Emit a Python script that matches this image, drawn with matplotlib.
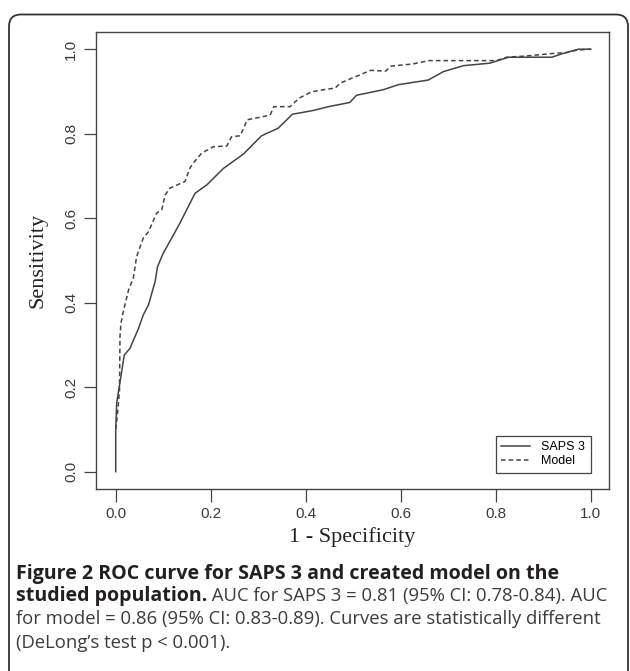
import matplotlib
matplotlib.use("Agg")
import matplotlib.pyplot as plt
from matplotlib.patches import FancyBboxPatch
from matplotlib.transforms import IdentityTransform

# ROC points (1 - specificity, sensitivity)
saps_fpr = [0, 0, 0.002, 0.018, 0.030, 0.048, 0.058, 0.069, 0.083, 0.088, 0.100,
            0.118, 0.135, 0.167, 0.192, 0.227, 0.269, 0.307, 0.342, 0.372, 0.416,
            0.448, 0.493, 0.507, 0.563, 0.595, 0.658, 0.690, 0.732, 0.788, 0.827,
            0.918, 0.942, 0.974, 1.0]
saps_tpr = [0, 0.099, 0.162, 0.276, 0.292, 0.339, 0.371, 0.395, 0.450, 0.485, 0.517,
            0.553, 0.588, 0.659, 0.679, 0.718, 0.752, 0.795, 0.813, 0.846, 0.855,
            0.864, 0.874, 0.891, 0.904, 0.916, 0.927, 0.947, 0.961, 0.967, 0.981,
            0.981, 0.990, 1.0, 1.0]

model_fpr = [0, 0.004, 0.008, 0.009, 0.011, 0.016, 0.027, 0.037, 0.044, 0.058, 0.069,
             0.086, 0.097, 0.104, 0.114, 0.146, 0.156, 0.163, 0.181, 0.205, 0.234,
             0.244, 0.262, 0.277, 0.304, 0.325, 0.333, 0.367, 0.386, 0.412, 0.437,
             0.462, 0.473, 0.507, 0.537, 0.568, 0.580, 0.625, 0.660, 0.802, 0.823,
             0.865, 0.921, 0.949, 0.971, 1.0]
model_tpr = [0.10, 0.14, 0.193, 0.320, 0.351, 0.379, 0.430, 0.458, 0.509, 0.553, 0.568,
             0.612, 0.620, 0.655, 0.671, 0.687, 0.718, 0.730, 0.754, 0.769, 0.771,
             0.793, 0.795, 0.833, 0.839, 0.844, 0.864, 0.864, 0.884, 0.899, 0.904,
             0.908, 0.920, 0.936, 0.950, 0.948, 0.960, 0.965, 0.973, 0.973, 0.981,
             0.984, 0.990, 0.992, 0.998, 1.0]

ticks = [0.0, 0.2, 0.4, 0.6, 0.8, 1.0]
tick_labels = ["0.0", "0.2", "0.4", "0.6", "0.8", "1.0"]

W, H = 630, 671
fig = plt.figure(figsize=(W / 100, H / 100), dpi=100)

# rounded frame around the whole figure (open at the bottom)
frame = FancyBboxPatch((9, -40), 619, 671 - 14.5 + 40,
                       boxstyle="round,pad=0,rounding_size=12",
                       transform=IdentityTransform(), fill=False,
                       edgecolor="#333333", linewidth=1.3)
fig.patches.append(frame)

ax = fig.add_axes([96 / W, 1 - 489 / H, 513 / W, 456.7 / H])
gray = "#444444"
ax.plot(saps_fpr, saps_tpr, color=gray, lw=1.1, label="SAPS 3")
ax.plot(model_fpr, model_tpr, color=gray, lw=1.1, ls=(0, (3, 2)), label="Model")

ax.set_xlim(-0.0415, 1.0385)
ax.set_ylim(-0.041, 1.040)
ax.set_xticks(ticks)
ax.set_yticks(ticks)
ax.set_xticklabels(tick_labels, fontfamily="Liberation Sans", fontsize=11, color="#3a3a3a")
ax.set_yticklabels(tick_labels, fontfamily="Liberation Sans", fontsize=11, color="#3a3a3a",
                   rotation=90, va="center")
ax.tick_params(direction="out", length=9, width=0.9, color=gray, pad=4)
for s in ax.spines.values():
    s.set_color(gray)
    s.set_linewidth(1.0)

ax.set_xlabel("1 - Specificity", fontfamily="Liberation Serif", fontsize=16, color="#222222")
ax.set_ylabel("Sensitivity", fontfamily="Liberation Serif", fontsize=16, color="#222222")
ax.xaxis.set_label_coords(0.5, (489 - 537) / 456.7)
ax.xaxis.label.set_va("center")
ax.yaxis.set_label_coords((38 - 96) / 513, 0.5)
ax.yaxis.label.set_va("center")

leg = ax.legend(loc="lower right", bbox_to_anchor=(1.0, -0.003),
                bbox_transform=ax.transData, borderaxespad=0,
                fancybox=False, edgecolor=gray, framealpha=1,
                prop={"family": "Liberation Sans", "size": 9},
                handlelength=2.3, handletextpad=0.9, labelspacing=0.15,
                borderpad=0.45)
leg.get_frame().set_linewidth(0.9)

# caption
cap_font = "Open Sans"
fs_bold = 14.1
fs_reg = 13.3
bold_c = "#231f20"
reg_c = "#3c3c3c"
x0 = 16 / W
lines_y = [578.5, 601.5, 624.5, 647.5]
renderer = fig.canvas.get_renderer()

def put(x, y_px, s, weight, color, fs):
    t = fig.text(x, 1 - y_px / H, s, fontfamily=cap_font, fontsize=fs,
                 fontweight=weight, color=color, va="baseline", ha="left")
    bb = t.get_window_extent(renderer=renderer)
    return bb.x1 / W

put(x0, lines_y[0], "Figure 2 ROC curve for SAPS 3 and created model on the", "bold", bold_c, fs_bold)
xe = put(x0, lines_y[1], "studied population.", "bold", bold_c, fs_bold)
put(xe, lines_y[1], " AUC for SAPS 3 = 0.81 (95% CI: 0.78-0.84). AUC", "normal", reg_c, fs_reg)
put(x0, lines_y[2], "for model = 0.86 (95% CI: 0.83-0.89). Curves are statistically different",
    "normal", reg_c, fs_reg)
put(x0, lines_y[3], "(DeLong\u2019s test p < 0.001).", "normal", reg_c, fs_reg)

fig.savefig("out.png", dpi=100)
